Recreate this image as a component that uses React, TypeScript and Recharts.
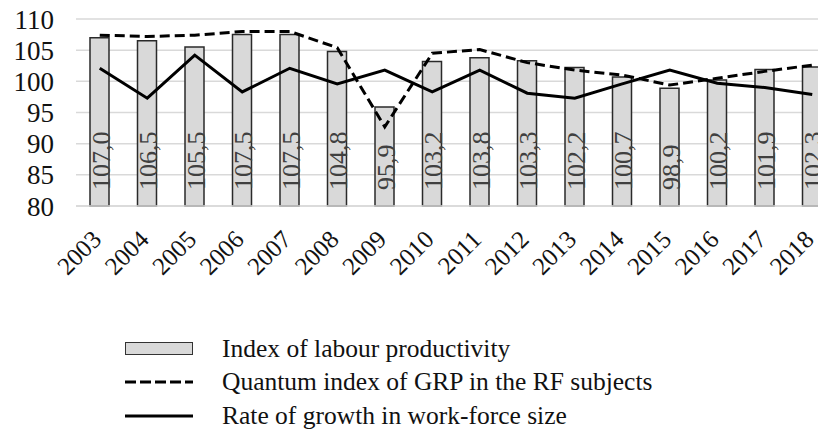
import React from 'react';
import { ComposedChart, Bar, Line, XAxis, YAxis, CartesianGrid, LabelList } from 'recharts';

const years = ['2003', '2004', '2005', '2006', '2007', '2008', '2009', '2010', '2011', '2012', '2013', '2014', '2015', '2016', '2017', '2018'];
const labourProductivity = [107.0, 106.5, 105.5, 107.5, 107.5, 104.8, 95.9, 103.2, 103.8, 103.3, 102.2, 100.7, 98.9, 100.2, 101.9, 102.3];
const grpIndex = [107.4, 107.2, 107.4, 108.0, 108.0, 105.4, 92.7, 104.5, 105.1, 103.0, 101.8, 101.0, 99.4, 100.5, 101.6, 102.6];
const workForce = [102.1, 97.3, 104.2, 98.3, 102.1, 99.6, 101.8, 98.3, 101.8, 98.1, 97.3, 99.6, 101.8, 99.7, 99.0, 97.9];
const yTicks = [80, 85, 90, 95, 100, 105, 110];

const seriesNames = [
  'Index of labour productivity',
  'Quantum index of GRP in the RF subjects',
  'Rate of growth in work-force size',
];

const data = years.map((year, i) => ({
  year,
  labour: labourProductivity[i],
  grp: grpIndex[i],
  workforce: workForce[i],
}));

const FONT = 'Liberation Serif';

// rotated year labels, text ends just under the bar centre
const YearTick = (props: any) => {
  const { x, y, payload } = props;
  const tx = x + 3;
  const ty = y + 27;
  return (
    <text
      x={tx}
      y={ty}
      transform={`rotate(-45, ${tx}, ${ty})`}
      textAnchor="end"
      fontSize={25}
      fontFamily={FONT}
      fill="#111"
    >
      {payload.value}
    </text>
  );
};

// vertical value inside the bar, reading bottom-up, decimal comma
const BarValueLabel = (props: any) => {
  const { x, y, width, height, value } = props;
  const cx = x + width / 2 + 1;
  const by = y + height - 16;
  return (
    <text
      x={cx}
      y={by}
      dy="0.35em"
      transform={`rotate(-90, ${cx}, ${by})`}
      textAnchor="start"
      fontSize={26}
      fontFamily={FONT}
      fill="#404040"
    >
      {Number(value).toFixed(1).replace('.', ',')}
    </text>
  );
};

function ChartLegend() {
  const row: React.CSSProperties = { display: 'flex', alignItems: 'center', height: 33.5 };
  const text: React.CSSProperties = { marginLeft: 29, fontSize: 25.5, fontFamily: FONT, color: '#111', whiteSpace: 'nowrap' };
  return (
    <div style={{ position: 'absolute', left: 125, top: 332 }}>
      <div style={row}>
        <div style={{ width: 66, height: 11, background: '#d9d9d9', border: '1px solid #333' }} />
        <span style={text}>{seriesNames[0]}</span>
      </div>
      <div style={row}>
        <svg width={68} height={6}>
          <line x1={0} y1={3} x2={68} y2={3} stroke="#000" strokeWidth={3} strokeDasharray="11 4" />
        </svg>
        <span style={text}>{seriesNames[1]}</span>
      </div>
      <div style={row}>
        <svg width={68} height={6}>
          <line x1={0} y1={3} x2={68} y2={3} stroke="#000" strokeWidth={3} />
        </svg>
        <span style={text}>{seriesNames[2]}</span>
      </div>
    </div>
  );
}

export default function App() {
  return (
    <div style={{ position: 'fixed', left: 0, top: 0, width: 818, height: 435, overflow: 'hidden', background: '#fff' }}>
      <ComposedChart width={836} height={300} data={data} margin={{ top: 19, right: 0, left: 0, bottom: 0 }}>
        <CartesianGrid vertical={false} stroke="#d9d9d9" strokeWidth={1.5} />
        <XAxis
          dataKey="year"
          height={94}
          interval={0}
          axisLine={{ stroke: '#d9d9d9', strokeWidth: 1.5 }}
          tickLine={false}
          tick={<YearTick />}
        />
        <YAxis
          domain={[80, 110]}
          ticks={yTicks}
          interval={0}
          width={76}
          axisLine={false}
          tickLine={false}
          tickMargin={16}
          tick={{ fontSize: 27, fontFamily: FONT, fill: '#111' }}
        />
        <Bar dataKey="labour" barSize={19} fill="#d9d9d9" stroke="#2a2a2a" strokeWidth={1.5} isAnimationActive={false}>
          <LabelList dataKey="labour" content={<BarValueLabel />} />
        </Bar>
        <Line type="linear" dataKey="workforce" stroke="#000" strokeWidth={3} dot={false} isAnimationActive={false} />
        <Line type="linear" dataKey="grp" stroke="#000" strokeWidth={3} strokeDasharray="10 5" dot={false} isAnimationActive={false} />
      </ComposedChart>
      <ChartLegend />
    </div>
  );
}
